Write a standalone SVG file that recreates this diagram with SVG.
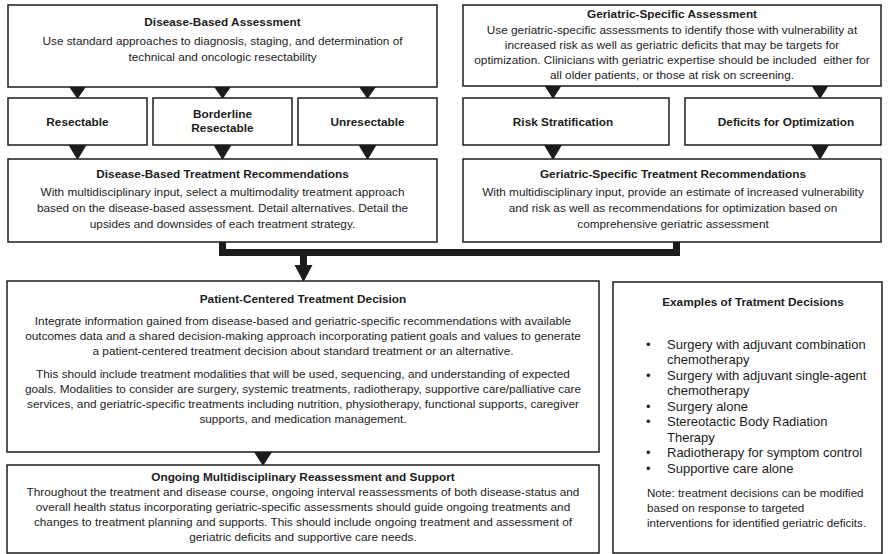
<svg xmlns="http://www.w3.org/2000/svg" width="889" height="554" viewBox="0 0 889 554">
  <style>
    .box { fill: #ffffff; stroke: #1c1c1c; stroke-width: 1.5; }
    .tri { fill: #1c1c1c; }
    .t { font-family: "Liberation Sans", Arial, sans-serif; font-size: 11.8px; fill: #1c1c1c; text-anchor: middle; }
    .b { font-weight: bold; }
    .l { font-family: "Liberation Sans", Arial, sans-serif; font-size: 13px; fill: #1c1c1c; }
    .n { font-family: "Liberation Sans", Arial, sans-serif; font-size: 11.6px; fill: #1c1c1c; }
  </style>
  <rect width="889" height="554" fill="#ffffff"/>

  <!-- connectors -->
  <g id="connectors">
    <polygon class="tri" points="68.5,86 86.5,86 77.5,99"/>
    <polygon class="tri" points="213.5,86 231.5,86 222.5,99"/>
    <polygon class="tri" points="358.5,86 376.5,86 367.5,99"/>
    <polygon class="tri" points="544,85 562,85 553,99"/>
    <polygon class="tri" points="811,85 829,85 820,99"/>
    <polygon class="tri" points="68.5,145 86.5,145 77.5,160"/>
    <polygon class="tri" points="213.5,145 231.5,145 222.5,160"/>
    <polygon class="tri" points="358.5,145 376.5,145 367.5,160"/>
    <polygon class="tri" points="544,145 562,145 553,160"/>
    <polygon class="tri" points="811,145 829,145 820,160"/>
    <path d="M222.5 242 V252.5 H676.5 V242" fill="none" stroke="#1c1c1c" stroke-width="7"/>
    <path d="M303.5 252 V267" fill="none" stroke="#1c1c1c" stroke-width="7"/>
    <polygon class="tri" points="294.5,265 312.5,265 303.5,282"/>
    <polygon class="tri" points="254,452 272,452 263,466"/>
  </g>

  <g id="disease-assessment">
    <rect class="box" x="8" y="5" width="429" height="82"/>
    <text class="t b" x="222.5" y="26">Disease-Based Assessment</text>
    <text class="t" x="222.5" y="45">Use standard approaches to diagnosis, staging, and determination of</text>
    <text class="t" x="222.5" y="60.5">technical and oncologic resectability</text>
  </g>

  <g id="geriatric-assessment">
    <rect class="box" x="463" y="5" width="418" height="81"/>
    <text class="t b" x="672" y="18">Geriatric-Specific Assessment</text>
    <text class="t" x="672" y="34">Use geriatric-specific assessments to identify those with vulnerability at</text>
    <text class="t" x="672" y="49">increased risk as well as geriatric deficits that may be targets for</text>
    <text class="t" x="672" y="64">optimization. Clinicians with geriatric expertise should be included&#160; either for</text>
    <text class="t" x="672" y="79">all older patients, or those at risk on screening.</text>
  </g>

  <g id="resectable">
    <rect class="box" x="8" y="98" width="139" height="47"/>
    <text class="t b" x="77.5" y="126">Resectable</text>
  </g>
  <g id="borderline-resectable">
    <rect class="box" x="153" y="98" width="139" height="47"/>
    <text class="t b" x="222.5" y="118">Borderline</text>
    <text class="t b" x="222.5" y="132">Resectable</text>
  </g>
  <g id="unresectable">
    <rect class="box" x="298" y="98" width="139" height="47"/>
    <text class="t b" x="367.5" y="126">Unresectable</text>
  </g>
  <g id="risk-stratification">
    <rect class="box" x="463" y="98" width="206" height="47"/>
    <text class="t b" x="563" y="126">Risk Stratification</text>
  </g>
  <g id="deficits-optimization">
    <rect class="box" x="685" y="98" width="196" height="47"/>
    <text class="t b" x="786" y="126">Deficits for Optimization</text>
  </g>

  <g id="disease-recommendations">
    <rect class="box" x="8" y="159" width="429" height="83"/>
    <text class="t b" x="222.5" y="178">Disease-Based Treatment Recommendations</text>
    <text class="t" x="222.5" y="196">With multidisciplinary input, select a multimodality treatment approach</text>
    <text class="t" x="222.5" y="212">based on the disease-based assessment. Detail alternatives. Detail the</text>
    <text class="t" x="222.5" y="228">upsides and downsides of each treatment strategy.</text>
  </g>

  <g id="geriatric-recommendations">
    <rect class="box" x="463" y="159" width="418" height="83"/>
    <text class="t b" x="673" y="178">Geriatric-Specific Treatment Recommendations</text>
    <text class="t" x="673" y="196">With multidisciplinary input, provide an estimate of increased vulnerability</text>
    <text class="t" x="673" y="212">and risk as well as recommendations for optimization based on</text>
    <text class="t" x="673" y="228">comprehensive geriatric assessment</text>
  </g>

  <g id="patient-decision">
    <rect class="box" x="7" y="281" width="592" height="171"/>
    <text class="t b" x="303" y="303">Patient-Centered Treatment Decision</text>
    <text class="t" x="303" y="325">Integrate information gained from disease-based and geriatric-specific recommendations with available</text>
    <text class="t" x="303" y="340">outcomes data and a shared decision-making approach incorporating patient goals and values to generate</text>
    <text class="t" x="303" y="355">a patient-centered treatment decision about standard treatment or an alternative.</text>
    <text class="t" x="303" y="378">This should include treatment modalities that will be used, sequencing, and understanding of expected</text>
    <text class="t" x="303" y="393">goals. Modalities to consider are surgery, systemic treatments, radiotherapy, supportive care/palliative care</text>
    <text class="t" x="303" y="408">services, and geriatric-specific treatments including nutrition, physiotherapy, functional supports, caregiver</text>
    <text class="t" x="303" y="423">supports, and medication management.</text>
  </g>

  <g id="ongoing-support">
    <rect class="box" x="7" y="465" width="592" height="88"/>
    <text class="t b" x="303" y="481">Ongoing Multidisciplinary Reassessment and Support</text>
    <text class="t" x="303" y="496">Throughout the treatment and disease course, ongoing interval reassessments of both disease-status and</text>
    <text class="t" x="303" y="511">overall health status incorporating geriatric-specific assessments should guide ongoing treatments and</text>
    <text class="t" x="303" y="526">changes to treatment planning and supports. This should include ongoing treatment and assessment of</text>
    <text class="t" x="303" y="541">geriatric deficits and supportive care needs.</text>
  </g>

  <g id="examples">
    <rect class="box" x="613" y="282" width="269" height="271"/>
    <text class="t b" x="753" y="306">Examples of Tratment Decisions</text>
    <g class="l">
      <text x="646" y="348.5">•</text><text x="667" y="348.5">Surgery with adjuvant combination</text>
      <text x="667" y="364">chemotherapy</text>
      <text x="646" y="379.5">•</text><text x="667" y="379.5">Surgery with adjuvant single-agent</text>
      <text x="667" y="395">chemotherapy</text>
      <text x="646" y="410.5">•</text><text x="667" y="410.5">Surgery alone</text>
      <text x="646" y="426">•</text><text x="667" y="426">Stereotactic Body Radiation</text>
      <text x="667" y="441.5">Therapy</text>
      <text x="646" y="457">•</text><text x="667" y="457">Radiotherapy for symptom control</text>
      <text x="646" y="472.5">•</text><text x="667" y="472.5">Supportive care alone</text>
    </g>
    <g class="n">
      <text x="647" y="496.5">Note: treatment decisions can be modified</text>
      <text x="647" y="512">based on response to targeted</text>
      <text x="647" y="527">interventions for identified geriatric deficits.</text>
    </g>
  </g>
</svg>
